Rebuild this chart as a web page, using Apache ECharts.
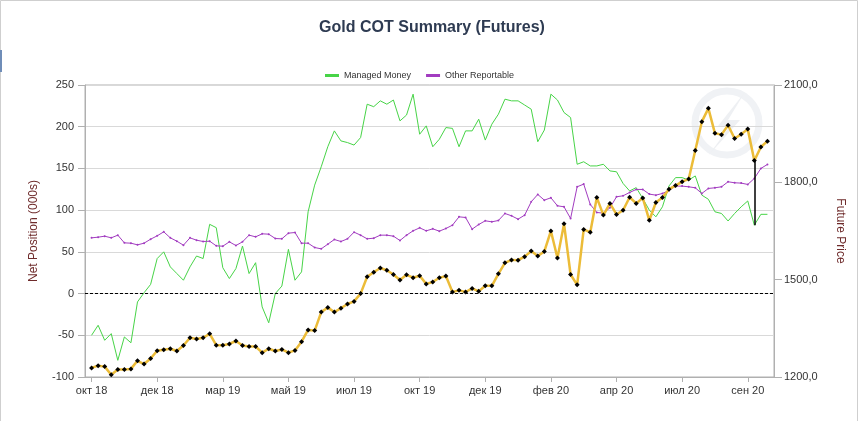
<!DOCTYPE html>
<html>
<head>
<meta charset="utf-8">
<script src="https://cdn.jsdelivr.net/npm/echarts@6/dist/echarts.min.js"></script>
<style>
html,body{margin:0;padding:0;background:#fff;}
#chart{width:864px;height:421px;}
</style>
</head>
<body>
<div id="chart"></div>
<script>
// ---- data (weekly COT reports, first report 2018-10-16) ----
const startDate = [2018, 9, 16];
const monthNames = ['янв','фев','мар','апр','май','июн','июл','авг','сен','окт','ноя','дек'];

const managedMoney = [
  -50,-38,-56,-48,-80,-52,-59,-10,1,11,
  42,50,32,24,16,32,45,42,83,79,
  31,18,30,57,24,37,-16,-35,0,9,
  53,16,26,98,130,152,176,195,183,181,
  178,187,227,224,231,227,232,207,214,239,
  191,201,176,185,199,198,176,195,195,209,
  184,203,215,233,231,231,226,221,182,196,
  239,232,217,211,155,158,153,153,155,147,
  146,132,123,127,114,100,92,104,129,139,
  139,136,141,118,113,98,96,87,96,104,
  111,82,95,95
];

const otherReportable = [
  66.8,67.6,68.8,66.8,70,60.8,60.4,58.4,60.4,65.2,
  69.2,74,66.8,62.8,58,66.8,64,62.4,62.8,57.2,
  56.8,62,57.6,62,70,68,71.6,71.2,66,65.6,
  72.4,73.2,60.4,60.4,55.2,53.6,59.2,64.8,62.4,65.6,
  73.6,70,65.6,66.4,70,70,68.8,63.6,70,75.2,
  78.8,75.2,77.6,74.8,78,82,92,91.2,77.2,82.8,
  87.2,86,87.6,96,93.2,89.2,94,110,118.8,112,
  114.8,105.2,104,90,128,131.2,106.8,97.2,96.4,102.8,
  116,117.2,121.2,124.8,124.8,119.2,118,120,123.6,128.8,
  128.8,128,126.8,120,126,126.8,128,134,132.8,132.4,
  130.8,138,150,154.8
];

const futurePrice = [
  1228,1235,1232,1207,1223,1223,1225,1250,1240,1257,
  1281,1284,1287,1280,1297,1321,1317,1321,1333,1298,
  1298,1302,1311,1297,1294,1294,1275,1287,1280,1285,
  1275,1282,1309,1345,1343,1400,1414,1400,1412,1425,
  1433,1457,1509,1523,1536,1529,1516,1499,1515,1506,
  1512,1487,1493,1506,1511,1462,1467,1462,1473,1464,
  1481,1481,1518,1552,1561,1560,1571,1588,1573,1587,
  1650,1567,1672,1516,1484,1655,1646,1753,1699,1735,
  1701,1714,1754,1735,1752,1683,1738,1753,1779,1790,
  1802,1810,1898,1987,2028,1951,1947,1976,1935,1948,
  1964,1867,1909,1927
];

const leftTicks = {min: -100, max: 250, interval: 50};
const rightTicks = {min: 1200, max: 2100, interval: 300};
const cursorIndex = 101; // highlighted week (vertical cursor line)

// ---- build categories: weekly dates, padded by one empty slot each side ----
const n = futurePrice.length;
const dates = [];
for (let i = 0; i < n; i++) {
  const d = new Date(Date.UTC(startDate[0], startDate[1], startDate[2]) + i * 7 * 86400000);
  dates.push(d.toISOString().slice(0, 10));
}
const cats = ['pad-start'].concat(dates, ['pad-end']);
const pad = arr => [null].concat(arr, [null]);
function fmtDate(v) {
  if (v.indexOf('pad') === 0) return '';
  const p = v.split('-');
  return monthNames[parseInt(p[1], 10) - 1] + ' ' + p[0].slice(2);
}
const showIdx = (idx) => idx % 10 === 1;

// convert left-axis value to right-axis units (for the cursor line)
function leftToRight(v) {
  return rightTicks.min + (v - leftTicks.min) / (leftTicks.max - leftTicks.min) * (rightTicks.max - rightTicks.min);
}

const FONT = 'Liberation Sans';
const chart = echarts.init(document.getElementById('chart'), null, {renderer: 'canvas'});
const option = {
  animation: false,
  backgroundColor: '#fff',
  title: {
    text: 'Gold COT Summary (Futures)',
    left: 'center',
    top: 15,
    textStyle: {fontFamily: FONT, fontSize: 16, fontWeight: 'bold', color: '#2e3b52'}
  },
  legend: {
    data: ['Managed Money', 'Other Reportable'],
    left: 320,
    top: 66,
    icon: 'rect',
    itemWidth: 14,
    itemHeight: 3,
    itemGap: 15,
    textStyle: {fontFamily: FONT, fontSize: 9, color: '#333'}
  },
  graphic: [
    {type: 'rect', shape: {x: 0.5, y: 0.5, width: 857, height: 425}, style: {fill: 'none', stroke: '#cfcfcf', lineWidth: 1}, silent: true},
    {type: 'rect', shape: {x: 0, y: 50, width: 2, height: 22}, style: {fill: '#6f8db8'}, silent: true},
    {type: 'circle', shape: {cx: 727, cy: 123, r: 32}, style: {fill: 'none', stroke: '#f0f2f5', lineWidth: 7}, silent: true, z: -10},
    {type: 'polygon', shape: {points: [[745, 92], [718, 126], [730, 126], [708, 156], [740, 120], [728, 120]]}, style: {fill: '#eef0f3'}, silent: true, z: -10}
  ],
  grid: {left: 85, right: 90, top: 85, bottom: 44, show: true, borderColor: '#b0b0b0', borderWidth: 1, backgroundColor: 'transparent'},
  xAxis: {
    type: 'category',
    boundaryGap: false,
    data: cats,
    axisLine: {onZero: false, lineStyle: {color: '#b0b0b0'}},
    axisTick: {interval: showIdx, length: 5, lineStyle: {color: '#b0b0b0'}},
    axisLabel: {interval: showIdx, formatter: fmtDate, color: '#333', fontFamily: FONT, fontSize: 11, margin: 8},
    splitLine: {show: false}
  },
  yAxis: [
    {
      type: 'value', position: 'left',
      min: leftTicks.min, max: leftTicks.max, interval: leftTicks.interval,
      name: 'Net Position (000s)', nameLocation: 'middle', nameGap: 45, nameRotate: 90,
      nameTextStyle: {color: '#6e2b2b', fontFamily: FONT, fontSize: 12},
      axisLine: {show: true, lineStyle: {color: '#b0b0b0'}},
      axisTick: {show: true, length: 7, lineStyle: {color: '#b0b0b0'}},
      axisLabel: {color: '#333', fontFamily: FONT, fontSize: 11, margin: 11},
      splitLine: {show: true, lineStyle: {color: '#d9d9d9'}}
    },
    {
      type: 'value', position: 'right',
      min: rightTicks.min, max: rightTicks.max, interval: rightTicks.interval,
      name: 'Future Price', nameLocation: 'middle', nameGap: 60, nameRotate: -90,
      nameTextStyle: {color: '#6e2b2b', fontFamily: FONT, fontSize: 12},
      axisLine: {show: true, lineStyle: {color: '#b0b0b0'}},
      axisTick: {show: true, length: 8, lineStyle: {color: '#b0b0b0'}},
      axisLabel: {color: '#333', fontFamily: FONT, fontSize: 11, margin: 10,
        formatter: v => v.toFixed(1).replace('.', ',')},
      splitLine: {show: false}
    }
  ],
  series: [
    {
      name: 'Managed Money', type: 'line', yAxisIndex: 0,
      data: pad(managedMoney),
      showSymbol: false,
      lineStyle: {color: '#47d447', width: 1},
      itemStyle: {color: '#47d447'},
      z: 2,
      markLine: {
        silent: true, symbol: 'none',
        label: {show: false},
        lineStyle: {color: '#000', type: [3, 2], width: 1},
        data: [{yAxis: 0}]
      }
    },
    {
      name: 'Other Reportable', type: 'line', yAxisIndex: 0,
      data: pad(otherReportable),
      symbol: 'circle', symbolSize: 2, showSymbol: true, showAllSymbol: true,
      lineStyle: {color: '#a23cc0', width: 1},
      itemStyle: {color: '#a23cc0'},
      z: 3
    },
    {
      name: 'Future Price', type: 'line', yAxisIndex: 1,
      data: pad(futurePrice),
      symbol: 'diamond', symbolSize: 5, showSymbol: true, showAllSymbol: true,
      lineStyle: {color: '#ecbc38', width: 2.5},
      itemStyle: {color: '#000', borderWidth: 0},
      z: 4,
      markLine: {
        silent: true, symbol: 'none',
        label: {show: false},
        lineStyle: {color: '#000', type: 'solid', width: 1.5},
        data: [[
          {coord: [cats[cursorIndex + 1], futurePrice[cursorIndex]]},
          {coord: [cats[cursorIndex + 1], leftToRight(managedMoney[cursorIndex])]}
        ]]
      }
    }
  ]
};
chart.setOption(option);
</script>
</body>
</html>
